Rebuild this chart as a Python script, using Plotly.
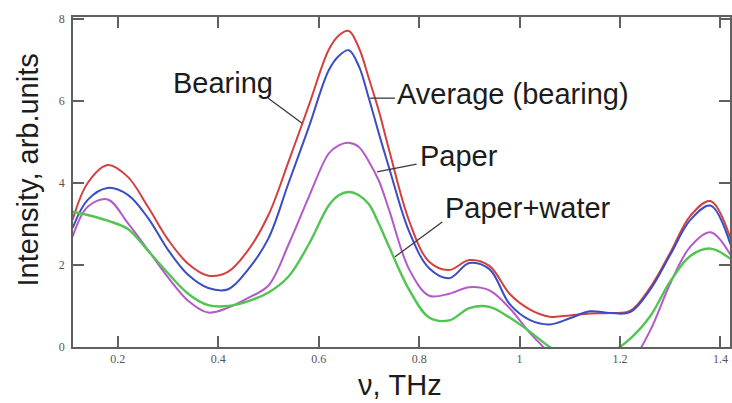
import plotly.graph_objects as go

freq = [0.11, 0.14, 0.18, 0.22, 0.26, 0.30, 0.34, 0.38, 0.42, 0.46, 0.50, 0.54,
        0.58, 0.62, 0.64, 0.66, 0.68, 0.70, 0.72, 0.74, 0.78, 0.82, 0.86, 0.90, 0.94, 0.98, 1.02,
        1.06, 1.10, 1.14, 1.18, 1.22, 1.26, 1.30, 1.34, 1.38, 1.42]

bearing = [3.10, 4.00, 4.44, 4.15, 3.42, 2.62, 2.03, 1.74, 1.84, 2.37, 3.22, 4.52,
           5.88, 7.25, 7.60, 7.71, 7.30, 6.55, 5.75, 4.82, 3.08, 2.08, 1.88, 2.12, 1.98, 1.30, 0.92,
           0.74, 0.77, 0.82, 0.83, 0.88, 1.45, 2.30, 3.20, 3.56, 2.65]

average = [2.90, 3.59, 3.88, 3.71, 3.15, 2.37, 1.76, 1.44, 1.41, 1.90, 2.65, 4.00,
           5.35, 6.75, 7.10, 7.24, 6.85, 6.06, 5.20, 4.38, 2.82, 1.92, 1.68, 2.05, 1.90, 1.05, 0.66,
           0.55, 0.70, 0.87, 0.83, 0.85, 1.40, 2.25, 3.10, 3.45, 2.50]

paper = [2.69, 3.42, 3.60, 3.02, 2.37, 1.70, 1.13, 0.84, 0.96, 1.20, 1.50, 2.50,
         3.65, 4.72, 4.92, 4.98, 4.88, 4.52, 4.05, 3.35, 1.90, 1.25, 1.30, 1.46, 1.38, 0.95, 0.35,
         -0.15, -0.60, -0.80, -0.70, -0.40, 0.40, 1.55, 2.45, 2.80, 2.25]

paper_water = [3.30, 3.22, 3.08, 2.88, 2.35, 1.80, 1.30, 1.02, 1.00, 1.12, 1.33, 1.72,
               2.50, 3.45, 3.70, 3.78, 3.70, 3.48, 3.00, 2.45, 1.40, 0.72, 0.65, 0.95, 0.98, 0.72, 0.38,
               0.00, -0.25, -0.35, -0.15, 0.20, 0.75, 1.60, 2.22, 2.40, 2.15]

x_ticks = [0.2, 0.4, 0.6, 0.8, 1.0, 1.2, 1.4]
x_tick_labels = ["0.2", "0.4", "0.6", "0.8", "1", "1.2", "1.4"]
y_ticks = [0, 2, 4, 6, 8]
y_tick_labels = ["0", "2", "4", "6", "8"]

labels = ["Bearing", "Average (bearing)", "Paper", "Paper+water"]

fig = go.Figure()
series = [
    (bearing, "#d2403f", 2.0),
    (average, "#3a4dc4", 2.0),
    (paper, "#b45ac8", 2.0),
    (paper_water, "#52c452", 2.4),
]
for vals, col, w in series:
    fig.add_trace(go.Scatter(x=freq, y=vals, mode="lines",
                             line=dict(color=col, width=w, shape="spline", smoothing=1.0),
                             showlegend=False, hoverinfo="skip"))

# label text positions (data coords) and leader lines
text_pos = [(0.305, 6.44), (0.752, 6.18), (0.798, 4.67), (0.848, 3.38)]
leaders = [((0.4995, 6.07), (0.567, 5.46)),
           ((0.7025, 6.07), (0.752, 6.07)),
           ((0.716, 4.27), (0.795, 4.46)),
           ((0.752, 2.20), (0.846, 3.05))]

lab_font = dict(family="Liberation Sans, Arial, sans-serif", size=29, color="#1c1c1c")
for lab, (tx, ty) in zip(labels, text_pos):
    fig.add_annotation(x=tx, y=ty, xref="x", yref="y", text=lab, showarrow=False,
                       xanchor="left", yanchor="middle", font=lab_font)
for (x0, y0), (x1, y1) in leaders:
    fig.add_shape(type="line", x0=x0, y0=y0, x1=x1, y1=y1, xref="x", yref="y",
                  line=dict(color="#3a3a3a", width=1.3))

# axis titles
fig.add_annotation(x=-0.068, y=0.536, xref="paper", yref="paper", text="Intensity, arb.units",
                   textangle=-90, showarrow=False, xanchor="center", yanchor="middle",
                   font=lab_font)
fig.add_annotation(x=0.498, y=-0.115, xref="paper", yref="paper", text="ν, THz",
                   showarrow=False, xanchor="center", yanchor="middle", font=lab_font)

axis_common = dict(showgrid=False, zeroline=False, showline=True, linecolor="#606060",
                   linewidth=1.6, mirror="ticks", ticks="inside", ticklen=11, tickwidth=1.5,
                   tickcolor="#606060", automargin=False,
                   tickfont=dict(family="Liberation Serif, Times New Roman, serif", size=12,
                                 color="#555555"))

fig.update_xaxes(range=[0.1108, 1.419], tickvals=x_ticks, ticktext=x_tick_labels, **axis_common)
fig.update_yaxes(range=[0, 8.05], tickvals=y_ticks, ticktext=y_tick_labels,
                 ticklabelstandoff=4, **axis_common)

fig.update_layout(width=732, height=403, margin=dict(l=73, r=2, t=17, b=56, autoexpand=False),
                  plot_bgcolor="white", paper_bgcolor="white")

fig.write_html("out.html", config={"displayModeBar": False},
               post_script="document.body.style.margin='0';")
